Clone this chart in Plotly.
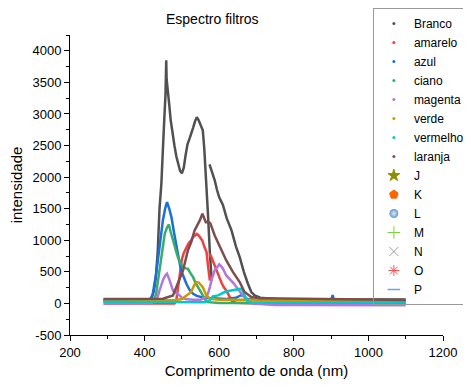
import plotly.graph_objects as go

# ---------------- data ----------------
branco_wl = [290, 350, 400, 415, 420, 425, 430, 435, 440, 445, 448, 450, 453, 456, 458, 459, 461, 463, 466,
             470, 475, 480, 485, 490, 495, 500, 505, 510, 515, 520, 525, 530, 535, 540, 545, 550, 556,
             560, 565, 570, 575, 580, None,
             574, 577, 582, 588, 594, 600, 610, 615, 620, 633, 645, 655, 666, 677, 686, 695, 710, 750,
             800, 900, 1000, 1100]
branco_int = [65, 65, 65, 70, 100, 200, 400, 800, 1500, 1900, 2300, 2700, 2950, 3300, 3850, 3550, 3400, 3300, 3150,
              2900, 2650, 2500, 2330, 2200, 2100, 2060, 2150, 2350, 2520, 2600, 2680, 2780, 2880, 2950, 2900, 2820, 2740,
              2450, 2000, 1400, 800, 360, None,
              2200, 2150, 2050, 1950, 1800, 1680, 1560, 1450, 1350, 1156, 900, 733, 500, 312, 180, 127, 90, 70,
              65, 62, 62, 62]

amarelo_wl = [290, 400, 480, 485, 490, 495, 500, 505, 510, 515, 520, 525, 530, 535, 540, 545, 550, 555,
              560, 566, 570, 575, None,
              573, 577, 580, 586, 592, 600, 606, 612, 619, 626, 633, 645, 700, 1100]
amarelo_int = [0, 0, 0, 50, 300, 500, 700, 800, 870, 920, 970, 1000, 1050, 1080, 1100, 1076, 1040, 990,
               900, 812, 600, 360, None,
               780, 760, 720, 620, 549, 420, 330, 260, 206, 120, 47, 10, 0, 0]

azul_wl = [290, 415, 422, 431, 440, 449, 455, 460, 466, 472, 478, 485, 492, 498, 505, 512, 520, 530, 540,
           553, 580, 620, 645, 658, 665, 675, 700, 900, 904, 908, 1100]
azul_int = [50, 55, 153, 470, 891, 1314, 1500, 1604, 1500, 1366, 1150, 891, 700, 522, 400, 312, 220, 153, 120,
            100, 80, 70, 90, 130, 120, 70, 55, 50, 130, 50, 50]

ciano_wl = [290, 425, 431, 436, 445, 454, 460, 465, 470, 476, 482, 489, 496, 503, 510, 516, 523, 530, 536,
            543, 550, 556, 563, 570, 600, 700, 1100]
ciano_int = [40, 45, 153, 364, 733, 1103, 1200, 1250, 1130, 1000, 850, 733, 640, 575, 555, 549, 480, 416, 330,
             258, 180, 127, 60, 20, 5, 5, 10]

magenta_wl = [290, 420, 430, 435, 440, 445, 450, 455, 460, 465, 470, 476, 485, 494, 500, 510, 530, 550, 565,
              570, 575, 580, 588, 595, 600, 605, 610, 619, 626, 633, 640, 646, 653, 660, 667, 673, 690, 750, 1100]
magenta_int = [0, 5, 40, 100, 206, 300, 380, 440, 470, 400, 300, 206, 160, 127, 90, 70, 60, 60, 100,
               160, 258, 380, 522, 590, 617, 590, 549, 443, 400, 364, 310, 258, 200, 153, 100, 58, 0, -25, -30]

verde_wl = [290, 480, 500, 507, 515, 525, 530, 535, 540, 545, 550, 556, 561, 566, 575, 600, 700, 1100]
verde_int = [50, 50, 70, 100, 130, 180, 250, 310, 337, 330, 300, 258, 190, 127, 74, 60, 60, 50]

vermelho_wl = [290, 560, 574, 583, 597, 615, 628, 637, 650, 660, 665, 668, 675, 682, 700, 1100]
vermelho_int = [25, 20, 47, 110, 127, 180, 200, 206, 225, 233, 180, 127, 40, 16, 15, 20]

laranja_wl = [290, 449, 476, 485, 494, 503, 516, 525, 534, 548, 555, 564, 570, 576, 588, 601, 619, 637, 655,
              668, 686, 710, 800, 900, 1100]
laranja_int = [70, 74, 127, 258, 400, 522, 839, 971, 1156, 1314, 1420, 1287, 1290, 1271, 1076, 918, 680, 496, 337,
               180, 100, 80, 75, 60, 55]

series_names = ["Branco", "amarelo", "azul", "ciano", "magenta", "verde", "vermelho", "laranja"]
series_colors = ["#515151", "#F14040", "#1A6FDF", "#37AD6B", "#B177DE", "#CC9900", "#00CBCC", "#7D4E4E"]
series_x = [branco_wl, amarelo_wl, azul_wl, ciano_wl, magenta_wl, verde_wl, vermelho_wl, laranja_wl]
series_y = [branco_int, amarelo_int, azul_int, ciano_int, magenta_int, verde_int, vermelho_int, laranja_int]

extra_names = ["J", "K", "L", "M", "N", "O", "P"]
extra_symbols = ["star", "pentagon", "circle", "cross-thin", "x-thin", "asterisk", "line-ew"]
extra_colors = ["#8E8E00", "#FB6500", "#6699CC", "#7FD03C", "#999999", "#FF5050", "#6F9FE8"]

x_ticks = [200, 400, 600, 800, 1000, 1200]
y_ticks = [-500, 0, 500, 1000, 1500, 2000, 2500, 3000, 3500, 4000]

# ---------------- figure ----------------
fig = go.Figure()

for name, col, xs, ys in zip(series_names, series_colors, series_x, series_y):
    fig.add_trace(go.Scatter(x=xs, y=ys, mode="lines", name=name, showlegend=False,
                             line=dict(color=col, width=2.5)))

for name, col in zip(series_names, series_colors):
    fig.add_trace(go.Scatter(x=[None], y=[None], mode="markers", name=name,
                             marker=dict(color=col, size=3, symbol="circle")))

for name, sym, col in zip(extra_names, extra_symbols, extra_colors):
    mk = dict(symbol=sym, color=col, size=9, line=dict(color=col, width=1))
    if sym == "circle":
        mk["gradient"] = dict(type="radial", color="#DDE8F5")
        mk["line"] = dict(width=0)
    if sym == "line-ew":
        mk["line"] = dict(color=col, width=1.5)
    fig.add_trace(go.Scatter(x=[None], y=[None], mode="markers", name=name, marker=mk))

axis_font = dict(family="Liberation Sans, Arial, sans-serif", size=13, color="#000")

fig.update_layout(
    width=471, height=379,
    margin=dict(l=62, r=36, t=27, b=52, autoexpand=False),
    paper_bgcolor="white", plot_bgcolor="white",
    font=dict(family="Liberation Sans, Arial, sans-serif", size=13, color="#000"),
    showlegend=True,
    legend=dict(x=0.812, y=1.09, xanchor="left", yanchor="top",
                bgcolor="rgba(255,255,255,0)", bordercolor="#999999", borderwidth=1,
                font=dict(size=12), itemsizing="trace", tracegroupgap=0, maxheight=375),
    annotations=[dict(text="Espectro filtros", x=0.383, y=1.053, xref="paper", yref="paper",
                      xanchor="center", yanchor="middle", showarrow=False,
                      font=dict(size=14, color="#000"))],
)

fig.update_xaxes(range=[200, 1200], tickvals=x_ticks, ticktext=[str(v) for v in x_ticks],
                 showline=True, linecolor="black", linewidth=1, mirror=False,
                 ticks="outside", ticklen=5, tickcolor="black", tickfont=axis_font,
                 minor=dict(dtick=100, ticks="outside", ticklen=3, tickcolor="black", showgrid=False),
                 showgrid=False, zeroline=False,
                 title=dict(text="Comprimento de onda (nm)", font=dict(size=15), standoff=6))
fig.update_yaxes(range=[-500, 4250], tickvals=y_ticks, ticktext=[str(v) for v in y_ticks],
                 showline=True, linecolor="black", linewidth=1, mirror=False,
                 ticks="outside", ticklen=5, tickcolor="black", tickfont=axis_font,
                 minor=dict(dtick=250, tick0=0, ticks="outside", ticklen=3, tickcolor="black", showgrid=False),
                 showgrid=False, zeroline=False,
                 title=dict(text="intensidade", font=dict(size=15), standoff=6))

fig.write_html("out.html")
